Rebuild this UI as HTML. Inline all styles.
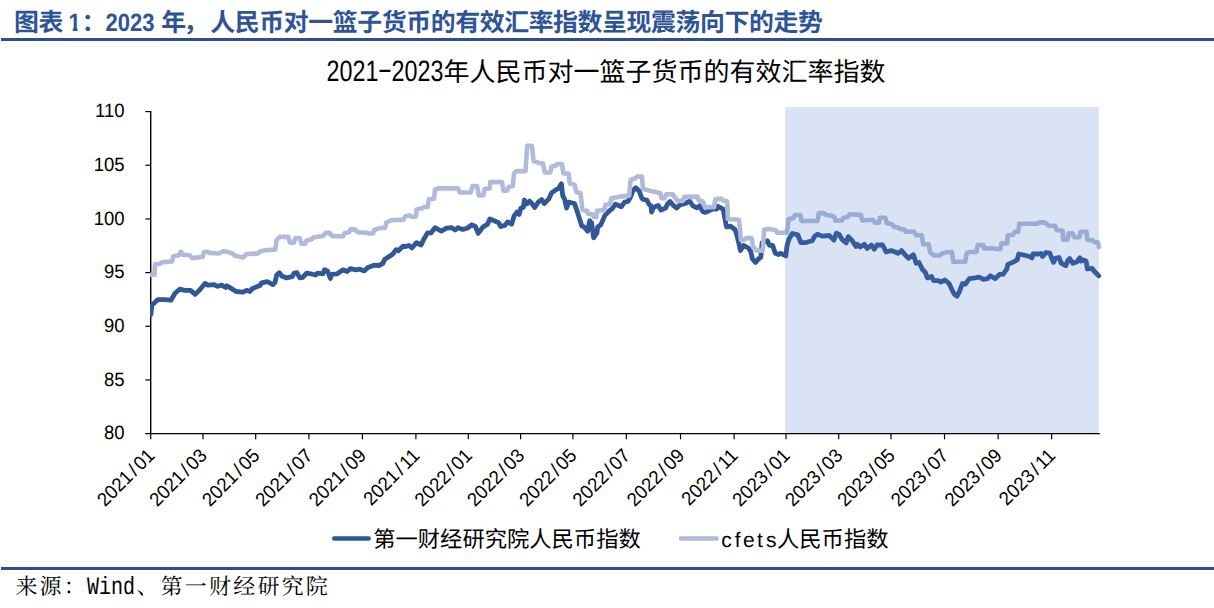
<!DOCTYPE html>
<html lang="zh-CN"><head><meta charset="utf-8"><title>图表 1：2023 年，人民币对一篮子货币的有效汇率指数呈现震荡向下的走势</title>
<style>html,body{margin:0;padding:0;background:#fff}body{width:1214px;height:608px;overflow:hidden}svg{display:block}text{white-space:pre}</style>
</head><body>
<svg width="1214" height="608" viewBox="0 0 1214 608" text-rendering="geometricPrecision">
<rect width="1214" height="608" fill="#fff"/>
<g font-family='"Liberation Sans","Noto Sans CJK SC",sans-serif' font-weight="700" fill="#2F5496" font-size="24.9" letter-spacing="-0.4">
<text x="13.9" y="31.4">图表</text>
<clipPath id="c1"><path d="M60,0 H90 V27.7 H77.5 V36 H72.8 V27.7 H60 Z"/></clipPath>
<g clip-path="url(#c1)"><text transform="translate(62.35,31.4) scale(0.88,1)" font-size="25" letter-spacing="0"> 1</text></g>
<text x="81.6" y="31.4">：</text>
<text transform="translate(105.6,31.4) scale(0.88,1)" font-size="25" letter-spacing="0">2023 </text>
<text y="31.4" x="161.25 183.25 210.25">年，人民币对一篮子货币的有效汇率指数呈现震荡向下的走势</text>
</g>
<rect x="1" y="38" width="1213" height="3" fill="#2C4F8E"/>
<g font-family='"Liberation Sans","Noto Sans CJK SC",sans-serif' fill="#000">
<text transform="translate(326.5,81) scale(0.79,1)" font-size="29.5">2021</text>
<text transform="translate(385,78.4) scale(1.65,1)" font-size="27" text-anchor="middle">-</text>
<text transform="translate(391.5,81) scale(0.79,1)" font-size="29.5">2023</text>
<text x="443.5" y="81" font-size="26">年人民币对一篮子货币的有效汇率指数</text>
</g>
<defs><clipPath id="pc"><rect x="150" y="100" width="960" height="333"/></clipPath></defs>
<g stroke="#000" stroke-width="1.4" fill="none">
<path d="M150.7,110.9 V433.6"/>
<path d="M145.3,433.6 H1099.8"/>
</g>
<g stroke="#000" stroke-width="1.2" fill="none">
<path d="M145.3,111.6 H150.7"/>
<path d="M145.3,165.27 H150.7"/>
<path d="M145.3,218.94 H150.7"/>
<path d="M145.3,272.61 H150.7"/>
<path d="M145.3,326.28 H150.7"/>
<path d="M145.3,379.95 H150.7"/>
<path d="M150.7,433.6 V439.3"/>
<path d="M203,433.6 V439.3"/>
<path d="M255.7,433.6 V439.3"/>
<path d="M308.9,433.6 V439.3"/>
<path d="M362.4,433.6 V439.3"/>
<path d="M415.9,433.6 V439.3"/>
<path d="M468.3,433.6 V439.3"/>
<path d="M520.6,433.6 V439.3"/>
<path d="M572.9,433.6 V439.3"/>
<path d="M626.3,433.6 V439.3"/>
<path d="M680.5,433.6 V439.3"/>
<path d="M734.1,433.6 V439.3"/>
<path d="M786,433.6 V439.3"/>
<path d="M838.7,433.6 V439.3"/>
<path d="M891,433.6 V439.3"/>
<path d="M944.5,433.6 V439.3"/>
<path d="M998.1,433.6 V439.3"/>
<path d="M1051.6,433.6 V439.3"/>
</g>
<g clip-path="url(#pc)" fill="none" stroke-linejoin="round" stroke-linecap="round">
<path d="M150.8,314.6 L151.9,305.4 L157.7,299.6 L164.6,299.6 L170.9,300.2 L175,293.2 L179.6,289.2 L184.8,290.4 L190.6,290.4 L195.2,294.4 L199.8,289.8 L205,283.4 L207.9,285.2 L214.2,284.6 L217.1,286.3 L221.7,285.2 L225.7,287.5 L226.9,285.8 L231.5,288.6 L236.1,291.5 L243,292.1 L246.5,290.4 L249.9,291.5 L252.3,288.6 L260.3,285.2 L261.5,282.9 L267.2,281.7 L273,284.6 L275,282.6 L276.7,275 L279.4,272.7 L281.9,276.1 L286.5,277.9 L292.3,276.7 L294,273.2 L296.9,272.7 L299.8,277.9 L302.7,277.3 L306.7,273.2 L310.8,273.8 L315.4,275 L317.7,273.2 L322.9,273.8 L324.6,269.8 L327.5,270.9 L330.4,278.4 L331.5,274.4 L337.3,273.8 L343,269.8 L347.1,271.5 L350.5,268.6 L355.7,269.8 L359.8,269.2 L364.4,270.9 L367.8,267.5 L374.2,265.2 L378.8,265.7 L382.8,263.4 L384.6,259.4 L392.6,254.2 L396.1,249.6 L398.4,250.8 L403,246.1 L405,246.7 L409,245.5 L411.9,247.9 L416.5,242.7 L421.1,245 L423.5,239.8 L427.5,232.9 L430.9,232.9 L435,227.7 L441.3,231.1 L446.5,228.2 L451.7,227.7 L455.2,230 L458,227.7 L462.7,229.4 L467.3,228.2 L471.9,224.8 L475.4,226.5 L478.2,233.4 L482.8,227.1 L487.5,224.2 L489.8,219 L498.4,222.5 L500.7,226.5 L504.8,225.4 L507.6,221.9 L511.7,224.2 L514,216.1 L516.9,212.1 L519.2,214.4 L520.9,208.1 L523.2,207.5 L524.4,200 L526.7,204 L529.6,201.1 L531.9,203.5 L534.7,207.5 L538.3,202.2 L541.6,199.5 L544.2,203.5 L548.8,198.9 L551.5,192.9 L556.1,189.7 L558.7,188.3 L561.4,183.7 L562.7,195.6 L564.7,199.5 L566.6,208.1 L568.6,202.2 L574.5,203.5 L577.2,211.4 L581.8,225.9 L584.4,227.2 L587.7,231.2 L589.7,220.6 L591.7,223.3 L593.6,237.8 L596.9,233.1 L597.6,227.2 L600.9,224.6 L604.9,215.4 L609.5,210.7 L612.1,208.8 L615.4,204.2 L618.7,205.5 L621.3,206.8 L624.6,202.2 L627.9,201.5 L629.9,198.2 L633.2,190.3 L635.8,187.7 L639.1,191 L641.8,198.2 L643.7,199.5 L647,200.2 L649,204.2 L651,206.1 L651.6,212.1 L653.6,207.4 L658.2,205.5 L660.9,210.1 L665.5,208.1 L667.5,204.2 L670.1,201.5 L672.7,204.8 L676.7,208.1 L680,204.8 L685.2,203.5 L689.6,201.2 L692.9,205.8 L696.9,207.8 L699.5,205.8 L702.8,211.7 L705.4,212.4 L712.7,209.1 L716.6,209.1 L717.9,206.5 L723.2,209.1 L724.5,216.4 L726.5,226.9 L730.5,226.2 L735.1,229.5 L737.1,236.1 L739,244 L740.4,250.6 L743.6,245.4 L748.3,248 L750.9,251.9 L752.2,258.5 L755.5,262.5 L758.1,259.2 L760.8,257.2 L762.1,242.7 L767.4,240.7 L769.4,245.4 L772.6,245.4 L775.3,253.3 L778.6,254.6 L780.6,253.3 L785.8,255.9 L787.1,245.4 L789.1,238.8 L792.4,233.5 L797.7,234.8 L801,242.7 L804.9,242.7 L812.2,240.7 L814.8,236.1 L817.5,234.2 L822.1,236.1 L829.3,235.5 L833.9,240.1 L836.4,233.1 L839.2,234.5 L842,239.4 L846.2,242.9 L848.3,236.6 L851.8,240.1 L856,246.4 L857.4,244.3 L860.2,247.1 L864.4,244.3 L867.2,248.5 L871.4,245 L874.2,249.2 L877,245 L882.6,245 L886.1,252 L891,250.6 L895.2,252 L898,253.4 L901.5,250.6 L905,254.8 L908.5,258.3 L913.4,254.8 L916.2,263.2 L919,262.5 L922.5,269.5 L925.3,272.3 L927.4,277.9 L931.6,276.5 L933.7,280.7 L938.6,280.7 L940.7,282.1 L944.9,280 L949.1,283.5 L952.6,291.2 L955,295 L957,296.2 L959,292.6 L962.4,283.5 L965.2,284.2 L969.4,278.6 L975,277.9 L979.2,277.2 L983.4,279.3 L987.6,278.6 L990.4,275.8 L995.3,278.6 L999.5,274.4 L1003,274.4 L1005,271.6 L1006.8,269.3 L1007.8,264.4 L1012.7,262.4 L1017.2,259.9 L1018.7,254 L1023.6,255 L1029.5,256.5 L1032,257.9 L1033,254 L1038.4,254 L1040.9,253.5 L1042.6,256.5 L1045.9,252.5 L1049.9,253.2 L1051.6,258 L1053.5,262.4 L1055.7,258 L1059.1,257.5 L1061.1,263.1 L1065.7,265.7 L1068.1,260 L1069.7,258.5 L1072.9,263.4 L1076.9,261.7 L1079.9,257.8 L1080.9,261.1 L1083.5,259.8 L1086.1,261.1 L1087.4,269 L1092,268.3 L1094,271 L1098.8,275.9" stroke="#305797" stroke-width="4.8"/>
<path d="M150.8,274.8 L154.6,274.8 L154.9,264.4 L160,263.8 L162.3,262.1 L172.1,261.5 L173.3,256.3 L179,255.2 L180.8,251.7 L183,254.6 L189.4,255.2 L192.3,258.1 L202.7,256.9 L203.8,252.3 L207.3,251.7 L209.6,252.9 L214.2,253.2 L218.8,253.5 L223.4,251.2 L226,251.6 L232.6,253.5 L234.9,255.8 L243,257.5 L246.5,254 L258,253.5 L260.3,251.2 L267.2,250 L275.2,249.6 L276.7,239.8 L279.6,236.9 L288.3,236.9 L290,242.7 L294,242.7 L295.2,238.1 L299.8,238.1 L301.5,243.8 L305,243.8 L306.7,240.4 L311.9,239.2 L313.1,237.5 L323.4,235.8 L325.7,232.9 L329.8,232.9 L332.1,236.3 L343,236.3 L344.8,232.9 L348.8,232.3 L350.5,229.4 L354.6,229.4 L358,232.3 L367.3,232.9 L369,233.5 L373,233.5 L374.2,230 L378.8,228.3 L385.1,227.7 L386.3,222.5 L391.5,220.2 L403.6,219.6 L405.3,216.2 L409.9,215.4 L412,217 L416,216.5 L416.5,209.6 L422.3,208.3 L424.3,206.9 L427.7,206.9 L428.9,199.4 L434.1,198.8 L435,189.6 L438.4,188.4 L458,188.4 L459.8,192.5 L470.7,192.5 L472.5,186.1 L477.1,186.1 L478.8,195.4 L483.4,195.4 L484.6,189 L489.8,188.4 L490.3,182.1 L501.9,182.1 L503.6,190.7 L507.1,190.7 L508.8,186.7 L512.8,186.1 L514,173.4 L516.3,171.1 L525.5,171.1 L527.2,145.8 L531.9,145.8 L533.6,161.3 L536.5,161.9 L539.4,163.1 L542.9,163.2 L544.9,172.5 L550.2,172.5 L551.5,166.6 L555.4,165.9 L557.4,164 L562,164 L563.3,173.2 L568.6,173.8 L569.9,183.7 L574.5,184.4 L576.5,192.3 L580.5,192.9 L582.4,210.1 L587,210.8 L588,213.8 L592.6,214.4 L593.6,217 L596.4,217 L597,210.7 L604.2,210.1 L605.5,204.8 L610.1,204.2 L611.4,198.2 L618,196.9 L629.2,195.6 L630.6,179.8 L635.2,178.5 L637.1,176.5 L641.8,176.5 L643.1,189 L651,191 L660.2,192.9 L661.5,198.2 L664.8,198.2 L666.1,194.3 L672.7,194.3 L677.3,200.9 L682.6,200.9 L684.6,196.9 L697.5,196.6 L698.8,200.5 L702.8,201.2 L704.8,207.1 L714,207.1 L715.3,199.2 L721.2,198.6 L723.2,200.5 L727.2,201.2 L727.8,219 L739,219.7 L741,240.1 L745,239.4 L746.3,238.1 L751.6,238.1 L752.9,246.7 L756.8,250.6 L762.8,250.6 L764.1,229.5 L769.4,228.9 L775.9,230.2 L777.3,232.8 L782.5,232.8 L787.1,232.2 L788.5,219 L793.1,218.3 L795,215 L800.3,215 L801.6,221 L817.5,221 L818.8,213.1 L824,213.1 L826,215 L831.3,215.7 L834.6,217 L835.2,220.6 L842,220.5 L843.4,217.7 L847.6,217 L849.7,214.2 L860.9,214.9 L862.3,220.5 L872.8,219.8 L874.9,222.6 L879.1,222.6 L879.8,217.7 L885.4,217.7 L886.8,223.3 L891.7,224 L893.8,226.8 L898,227.5 L900.1,228.9 L904.3,229.6 L905.7,231.7 L914.1,231.7 L916.2,235.2 L921.8,235.2 L923.2,244.3 L928.8,244.3 L930.2,252.7 L934.4,255.5 L940,255.5 L942.1,253.4 L947,252 L951.9,252 L953.3,261.8 L965.2,261.8 L966.6,253.4 L969.4,252 L976.4,252 L977.8,245 L983.4,245 L984.1,248.5 L994,248.3 L995.9,249 L1000.4,249 L1001.4,243.6 L1007.3,243.1 L1007.8,235.2 L1013.2,234.7 L1014.7,231.7 L1018.2,231.7 L1019.2,223.8 L1037.4,223.8 L1039.4,222.4 L1043.9,222.4 L1046.8,223.8 L1048.8,225.8 L1055.2,225.8 L1056.7,230.3 L1062.7,230.8 L1063.1,239.7 L1067.6,239.7 L1068.6,233.2 L1072.5,233.2 L1074,237.2 L1079.5,237.2 L1080.4,231.7 L1086.4,231.7 L1087.4,239.7 L1091.8,240.1 L1094.8,242.1 L1098.2,242.6 L1099,247.1" stroke="#B0BADA" stroke-width="4.6"/>
</g>
<rect x="785.2" y="107.1" width="313.6" height="325.8" fill="#4472C4" fill-opacity="0.2"/>
<g font-family='"Liberation Sans","Noto Sans CJK SC",sans-serif' font-size="19.3" fill="#000" text-anchor="end">
<text transform="translate(124.6,117.2) scale(0.96,1)">110</text>
<text transform="translate(124.6,170.87) scale(0.96,1)">105</text>
<text transform="translate(124.6,224.54) scale(0.96,1)">100</text>
<text transform="translate(124.6,278.21) scale(0.96,1)">95</text>
<text transform="translate(124.6,331.88) scale(0.96,1)">90</text>
<text transform="translate(124.6,385.55) scale(0.96,1)">85</text>
<text transform="translate(124.6,439.22) scale(0.96,1)">80</text>
</g>
<g font-family='"Liberation Sans","Noto Sans CJK SC",sans-serif' font-size="19.3" fill="#000" text-anchor="end">
<text transform="translate(155.7,456.7) rotate(-45) scale(0.96,1)">2021<tspan dx="2.5">/</tspan><tspan dx="2.5">01</tspan></text>
<text transform="translate(208,456.7) rotate(-45) scale(0.96,1)">2021<tspan dx="2.5">/</tspan><tspan dx="2.5">03</tspan></text>
<text transform="translate(260.7,456.7) rotate(-45) scale(0.96,1)">2021<tspan dx="2.5">/</tspan><tspan dx="2.5">05</tspan></text>
<text transform="translate(313.9,456.7) rotate(-45) scale(0.96,1)">2021<tspan dx="2.5">/</tspan><tspan dx="2.5">07</tspan></text>
<text transform="translate(367.4,456.7) rotate(-45) scale(0.96,1)">2021<tspan dx="2.5">/</tspan><tspan dx="2.5">09</tspan></text>
<text transform="translate(420.9,456.7) rotate(-45) scale(0.96,1)">2021<tspan dx="2.5">/</tspan><tspan dx="2.5">11</tspan></text>
<text transform="translate(473.3,456.7) rotate(-45) scale(0.96,1)">2022<tspan dx="2.5">/</tspan><tspan dx="2.5">01</tspan></text>
<text transform="translate(525.6,456.7) rotate(-45) scale(0.96,1)">2022<tspan dx="2.5">/</tspan><tspan dx="2.5">03</tspan></text>
<text transform="translate(577.9,456.7) rotate(-45) scale(0.96,1)">2022<tspan dx="2.5">/</tspan><tspan dx="2.5">05</tspan></text>
<text transform="translate(631.3,456.7) rotate(-45) scale(0.96,1)">2022<tspan dx="2.5">/</tspan><tspan dx="2.5">07</tspan></text>
<text transform="translate(685.5,456.7) rotate(-45) scale(0.96,1)">2022<tspan dx="2.5">/</tspan><tspan dx="2.5">09</tspan></text>
<text transform="translate(739.1,456.7) rotate(-45) scale(0.96,1)">2022<tspan dx="2.5">/</tspan><tspan dx="2.5">11</tspan></text>
<text transform="translate(791,456.7) rotate(-45) scale(0.96,1)">2023<tspan dx="2.5">/</tspan><tspan dx="2.5">01</tspan></text>
<text transform="translate(843.7,456.7) rotate(-45) scale(0.96,1)">2023<tspan dx="2.5">/</tspan><tspan dx="2.5">03</tspan></text>
<text transform="translate(896,456.7) rotate(-45) scale(0.96,1)">2023<tspan dx="2.5">/</tspan><tspan dx="2.5">05</tspan></text>
<text transform="translate(949.5,456.7) rotate(-45) scale(0.96,1)">2023<tspan dx="2.5">/</tspan><tspan dx="2.5">07</tspan></text>
<text transform="translate(1003.1,456.7) rotate(-45) scale(0.96,1)">2023<tspan dx="2.5">/</tspan><tspan dx="2.5">09</tspan></text>
<text transform="translate(1056.6,456.7) rotate(-45) scale(0.96,1)">2023<tspan dx="2.5">/</tspan><tspan dx="2.5">11</tspan></text>
</g>
<path d="M334.2,538.5 H368.7" stroke="#305797" stroke-width="4.4" stroke-linecap="round"/>
<path d="M680.9,538.5 H716.6" stroke="#B0BADA" stroke-width="4.4" stroke-linecap="round"/>
<g font-family='"Liberation Sans","Noto Sans CJK SC",sans-serif' fill="#000" font-size="22.3">
<text x="373.2" y="547">第一财经研究院人民币指数</text>
<text y="547" font-size="21" text-anchor="middle" x="726.58 737.73 748.88 760.02 771.17">cfets</text>
<text x="777.0" y="547">人民币指数</text>
</g>
<rect x="1" y="567" width="1213" height="3" fill="#2C4F8E"/>
<g font-family='"Liberation Serif","Noto Serif CJK SC",serif' fill="#000" font-size="22" letter-spacing="2.2">
<text x="15.4" y="594">来源：</text>
<text transform="translate(87,594) scale(0.8,1)" font-family='"Liberation Mono","Noto Serif CJK SC",monospace' font-size="25" letter-spacing="0">Wind</text>
<text x="136.4" y="594">、第一财经研究院</text>
</g>
</svg></body></html>
